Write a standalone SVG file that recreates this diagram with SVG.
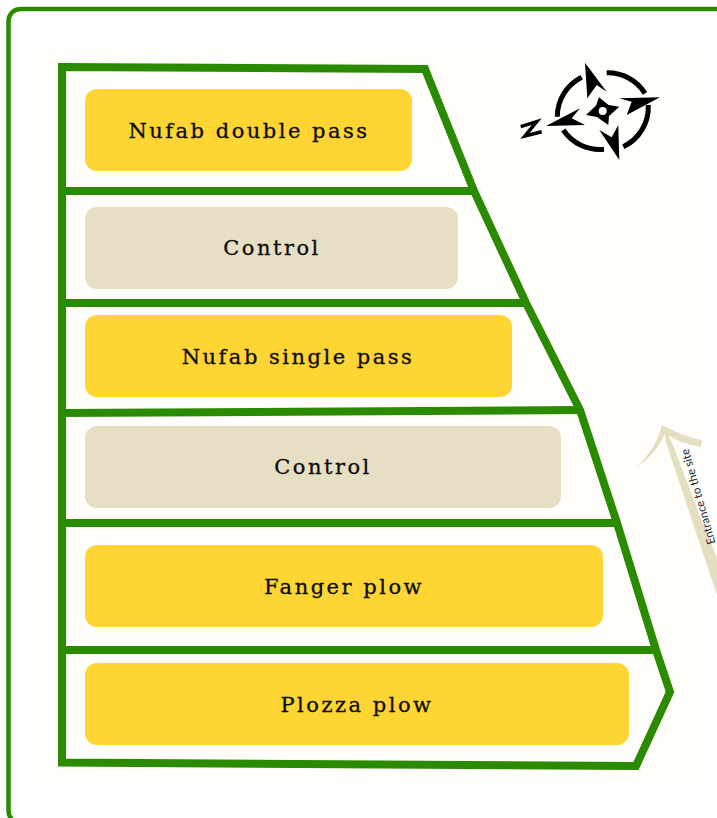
<svg xmlns="http://www.w3.org/2000/svg" width="717" height="818" viewBox="0 0 717 818">
<style>
.g{fill:none;stroke:#2a8b00;stroke-width:8;stroke-linejoin:miter}
.y{fill:#fed532}
.c{fill:#e6dfc3}
.t{font-family:"DejaVu Serif",serif;font-size:21px;letter-spacing:2.5px;text-anchor:middle;fill:#0c0c0c;stroke:#0c0c0c;stroke-width:.3}
.k{fill:#000}
</style>
<rect width="717" height="818" fill="#fff"/>
<rect x="8.500" y="9" width="740" height="814" rx="12" fill="#fff" stroke="#2a8b00" stroke-width="4.500"/>
<rect x="34" y="47" width="663" height="738" fill="#fffefb"/>
<g id="connectors">
<path class="g" d="M62 67L425 69L474 191L526 303L580 410L617 523L656 650L670 692L636 766L62 762.500Z"/>
<path class="g" d="M62 191H474M62 303H526M62 413L580 410M62 523H617M62 650H656"/>
</g>
<g id="plot1"><rect class="y" x="85" y="89" width="327" height="82" rx="12"/><text class="t" x="249" y="138">Nufab double pass</text></g>
<g id="plot2"><rect class="c" x="85" y="207" width="373" height="82" rx="12"/><text class="t" x="272" y="255">Control</text></g>
<g id="plot3"><rect class="y" x="85" y="315" width="427" height="82" rx="12"/><text class="t" x="298" y="364">Nufab single pass</text></g>
<g id="plot4"><rect class="c" x="85" y="426" width="476" height="82" rx="12"/><text class="t" x="323" y="474">Control</text></g>
<g id="plot5"><rect class="y" x="85" y="545" width="518" height="82" rx="12"/><text class="t" x="344" y="594">Fanger plow</text></g>
<g id="plot6"><rect class="y" x="85" y="663" width="544" height="82" rx="12"/><text class="t" x="357" y="712">Plozza plow</text></g>
<g id="compass">
<path d="M581.700 77.300A44 44 0 0 0 557.300 116.700M563.300 130A44 44 0 0 0 604 149.300M606.700 72.700A44 44 0 0 1 645 93.300M648.300 105A44 44 0 0 1 623.300 146.700" fill="none" stroke="#000" stroke-width="5"/>
<path class="k" d="M585 62.700L606.700 91.700L596.700 85L587.300 98.300Z"/>
<path class="k" d="M660 97.300L619.300 98.300L631.700 101.700L626.700 115Z"/>
<path class="k" d="M619.300 160L599.300 130L611.700 137.300L618.300 125Z"/>
<path class="k" d="M546 126L580 108.300L571.700 118.300L585 125Z"/>
<path class="k" d="M599 97.300L608.500 105L619.300 106.700L609 116L608.300 125L597 117L586 115L596 105.500Z"/>
<circle cx="602.700" cy="111" r="5" fill="#fff" stroke="#000" stroke-width="2"/>
<path d="M520.700 126.700L536.700 121.700L525 136L541.700 131.700" fill="none" stroke="#000" stroke-width="3.500"/>
</g>
<g id="entrance">
<path fill="#e3dfc0" d="M664 426L672 443C682 467 695 505 717 558V595C700 545 682 490 666 443Z"/>
<path fill="#e3dfc0" d="M662 425Q682 436 702 440L701 447Q680 444 665 433Q658 452 637 467Q652 452 658 437Z"/>
<text transform="translate(715.500 543) rotate(-106)" font-family="Lato,sans-serif" font-size="11.500" fill="#222">Entrance to the site</text>
</g>
</svg>
